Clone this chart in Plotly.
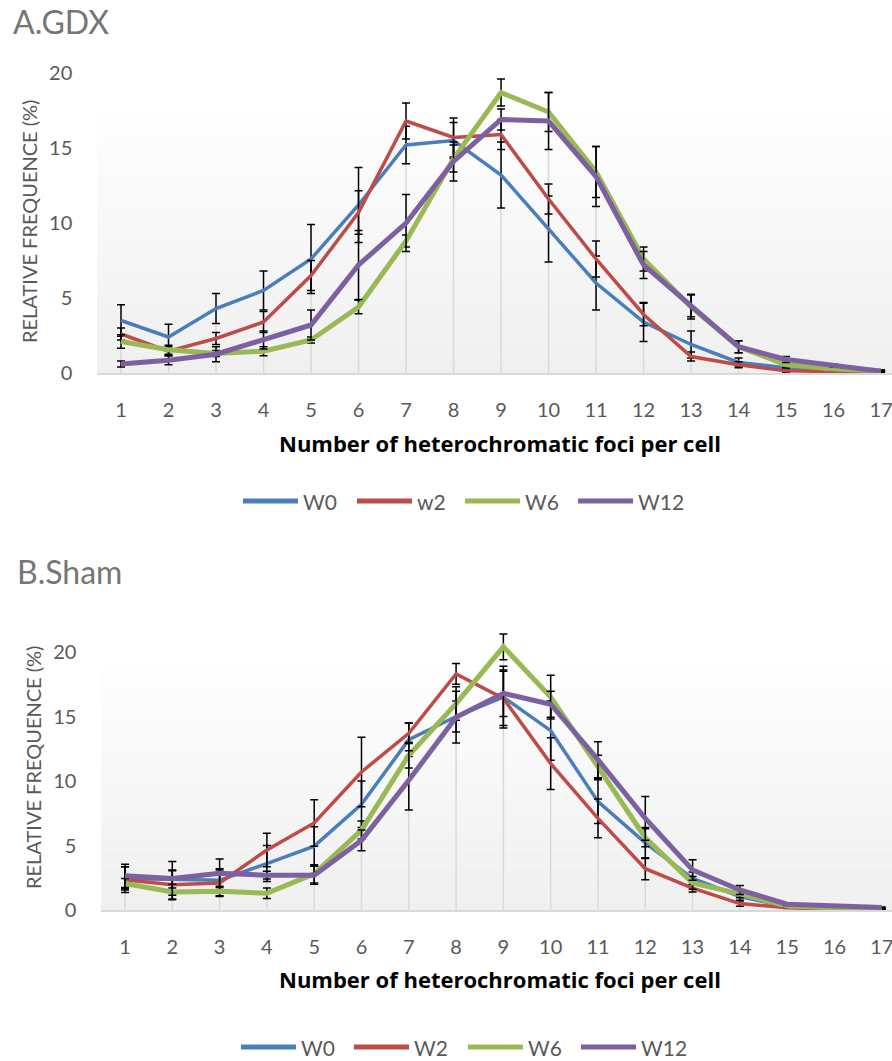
import plotly.graph_objects as go

W, H = 892, 1061

foci = list(range(1, 18))
tick_text = [str(v) for v in foci]
series_names_a = ["W0", "w2", "W6", "W12"]
series_names_b = ["W0", "W2", "W6", "W12"]
colors = ["#4A7EBB", "#BE4B48", "#98B954", "#7D60A0"]
widths = [3.5, 3.5, 5, 5]

# A.GDX: relative frequency (%) and error
gdx_w0 = [3.5, 2.4, 4.3, 5.5, 7.6, 11.2, 15.2, 15.5, 13.2, 9.6, 6.0, 3.4, 1.9, 0.7, 0.35, 0.2, 0.15]
gdx_w0_err = [1.05, 0.85, 1.0, 1.3, 2.3, 2.5, 1.25, 1.2, 2.2, 2.2, 1.8, 1.3, 0.9, 0.3, 0.15, 0.1, 0.05]
gdx_w2 = [2.6, 1.45, 2.3, 3.4, 6.5, 10.7, 16.8, 15.7, 15.9, 11.6, 7.6, 3.9, 1.1, 0.55, 0.15, 0.07, 0.04]
gdx_w2_err = [0.4, 0.3, 0.4, 0.7, 1.0, 1.45, 1.2, 1.3, 1.0, 1.0, 1.2, 0.75, 0.3, 0.2, 0.1, 0.05, 0.02]
gdx_w6 = [2.1, 1.55, 1.3, 1.45, 2.2, 4.4, 8.8, 14.3, 18.7, 17.4, 13.4, 7.6, 4.4, 1.75, 0.55, 0.27, 0.15]
gdx_w6_err = [0.45, 0.3, 0.2, 0.3, 0.2, 0.45, 0.4, 0.9, 0.9, 1.3, 1.7, 0.8, 0.8, 0.4, 0.2, 0.1, 0.05]
gdx_w12 = [0.6, 0.85, 1.25, 2.2, 3.2, 7.2, 10.0, 14.1, 16.9, 16.8, 13.1, 7.2, 4.5, 1.75, 0.9, 0.5, 0.12]
gdx_w12_err = [0.2, 0.3, 0.5, 0.6, 1.0, 2.3, 1.9, 1.3, 0.7, 1.9, 2.0, 0.9, 0.75, 0.4, 0.2, 0.1, 0.05]

# B.Sham: relative frequency (%) and error
sham_w0 = [2.45, 2.4, 2.3, 3.6, 4.95, 8.2, 13.2, 15.0, 16.5, 13.9, 8.4, 5.2, 2.45, 1.05, 0.26, 0.13, 0.05]
sham_w0_err = [0.9, 0.7, 0.9, 1.4, 1.5, 1.8, 1.3, 1.2, 2.4, 2.3, 1.7, 1.2, 0.5, 0.3, 0.1, 0.05, 0.05]
sham_w2 = [2.35, 1.95, 2.1, 4.65, 6.75, 10.7, 13.7, 18.3, 16.4, 11.35, 7.1, 3.2, 1.7, 0.5, 0.18, 0.05, 0.02]
sham_w2_err = [1.0, 1.1, 1.0, 1.3, 1.8, 2.7, 0.8, 0.8, 2.1, 2.0, 1.5, 0.85, 0.3, 0.2, 0.05, 0.02, 0.02]
sham_w6 = [2.05, 1.4, 1.45, 1.3, 2.8, 6.2, 12.0, 16.0, 20.4, 16.5, 11.1, 5.6, 2.1, 1.25, 0.3, 0.13, 0.03]
sham_w6_err = [0.4, 0.6, 0.4, 0.4, 0.7, 0.7, 1.0, 1.3, 1.0, 1.7, 0.9, 0.7, 0.5, 0.3, 0.1, 0.05, 0.02]
sham_w12 = [2.65, 2.45, 2.85, 2.7, 2.7, 5.4, 10.05, 14.95, 16.8, 15.95, 11.65, 7.1, 3.1, 1.55, 0.45, 0.3, 0.2]
sham_w12_err = [0.9, 1.3, 1.1, 0.3, 0.7, 0.8, 2.3, 2.0, 1.8, 1.0, 1.4, 1.7, 0.8, 0.35, 0.1, 0.05, 0.03]

gdx = [(gdx_w0, gdx_w0_err), (gdx_w2, gdx_w2_err), (gdx_w6, gdx_w6_err), (gdx_w12, gdx_w12_err)]
sham = [(sham_w0, sham_w0_err), (sham_w2, sham_w2_err), (sham_w6, sham_w6_err), (sham_w12, sham_w12_err)]

FONT = "Lato"
GREY = "#595959"


def px_x(p):
    return p / W


def px_y(p):
    return 1 - p / H


fig = go.Figure()


def add_panel(data, names, xa, ya):
    # drop lines from the highest point of each category down to the axis
    dx, dy = [], []
    for i, x in enumerate(foci):
        top = max(s[0][i] for s in data)
        dx += [x, x, None]
        dy += [0, top, None]
    fig.add_trace(go.Scatter(x=dx, y=dy, mode="lines", xaxis=xa, yaxis=ya,
                             line=dict(color="#d9d9d9", width=1.5),
                             hoverinfo="skip", showlegend=False))
    for (vals, err), name, c, w in zip(data, names, colors, widths):
        fig.add_trace(go.Scatter(
            x=foci, y=vals, name=name, mode="lines", xaxis=xa, yaxis=ya,
            line=dict(color=c, width=w),
            error_y=dict(type="data", array=err, visible=True,
                         color="black", thickness=1.5, width=4),
            cliponaxis=False, showlegend=False))


add_panel(gdx, series_names_a, "x", "y")
add_panel(sham, series_names_b, "x2", "y2")

shapes = []
annotations = []


def gradient_box(left, top, bottom, n=60):
    for k in range(n):
        t = k / (n - 1)
        v = round(254 - (254 - 239) * t)
        y0 = top + (bottom - top) * k / n
        y1 = top + (bottom - top) * (k + 1) / n
        shapes.append(dict(type="rect", xref="paper", yref="paper",
                           x0=px_x(left), x1=1, y0=px_y(y1), y1=px_y(y0),
                           fillcolor=f"rgb({v},{v},{v})", line=dict(width=0),
                           layer="below"))


gradient_box(97, 113, 373)
gradient_box(101, 663, 910)


def legend(names, ycen, starts):
    for name, c, x0 in zip(names, colors, starts):
        shapes.append(dict(type="line", xref="paper", yref="paper",
                           x0=px_x(x0), x1=px_x(x0 + 55), y0=px_y(ycen), y1=px_y(ycen),
                           line=dict(color=c, width=5)))
        annotations.append(dict(text=name, xref="paper", yref="paper",
                                x=px_x(x0 + 58), y=px_y(ycen), xanchor="left", yanchor="middle",
                                showarrow=False, font=dict(family=FONT, size=21, color=GREY)))


legend(series_names_a, 501, [243, 357, 465, 578])
legend(series_names_b, 1047, [241, 354, 468, 581])

for text, x, y in [("A.GDX", 11, 22), ("B.Sham", 15, 571)]:
    annotations.append(dict(text=text, xref="paper", yref="paper", x=px_x(x), y=px_y(y),
                            xanchor="left", yanchor="middle", showarrow=False,
                            font=dict(family=FONT, size=32, color="#767676")))

for x, y in [(29, 222), (33, 768)]:
    annotations.append(dict(text="RELATIVE FREQUENCE (%)", xref="paper", yref="paper",
                            x=px_x(x), y=px_y(y), textangle=-90, xanchor="center", yanchor="middle",
                            showarrow=False, font=dict(family=FONT, size=20, color=GREY)))

for y in [443, 979]:
    annotations.append(dict(text="<b>Number of heterochromatic foci per cell</b>", xref="paper",
                            yref="paper", x=px_x(500), y=px_y(y), xanchor="center", yanchor="middle",
                            showarrow=False, font=dict(family="Open Sans", size=22, color="black")))

xcommon = dict(tickmode="array", tickvals=foci, ticktext=tick_text, showgrid=False,
               zeroline=False, showline=True, linecolor="#d9d9d9", linewidth=1.5,
               ticks="outside", ticklen=18, tickcolor="rgba(0,0,0,0)",
               ticklabeloverflow="allow", automargin=False,
               tickfont=dict(family=FONT, size=20, color=GREY))
ycommon = dict(tickvals=[0, 5, 10, 15, 20], showgrid=False, zeroline=False,
               showline=False, ticks="outside", ticklen=20, tickcolor="rgba(0,0,0,0)",
               automargin=False, tickfont=dict(family=FONT, size=20, color=GREY))

# pixel scale: panel A 15 px per unit from the axis at 373; panel B 12.9 px per unit from 910
A_TOP_VAL, B_TOP_VAL = 21, 22
fig.update_layout(
    width=W, height=H, margin=dict(l=0, r=0, t=0, b=0, autoexpand=False),
    paper_bgcolor="white", plot_bgcolor="rgba(0,0,0,0)",
    showlegend=False,
    xaxis=dict(domain=[px_x(97.25), 1], range=[0.5, 17.23], anchor="y", **xcommon),
    yaxis=dict(domain=[px_y(373), px_y(373 - 15 * A_TOP_VAL)], range=[0, A_TOP_VAL],
               anchor="x", **ycommon),
    xaxis2=dict(domain=[px_x(101.35), 1], range=[0.5, 17.216], anchor="y2", **xcommon),
    yaxis2=dict(domain=[px_y(910), px_y(910 - 12.9 * B_TOP_VAL)], range=[0, B_TOP_VAL],
                anchor="x2", **ycommon),
    shapes=shapes, annotations=annotations,
)

fig.write_html("out.html")
